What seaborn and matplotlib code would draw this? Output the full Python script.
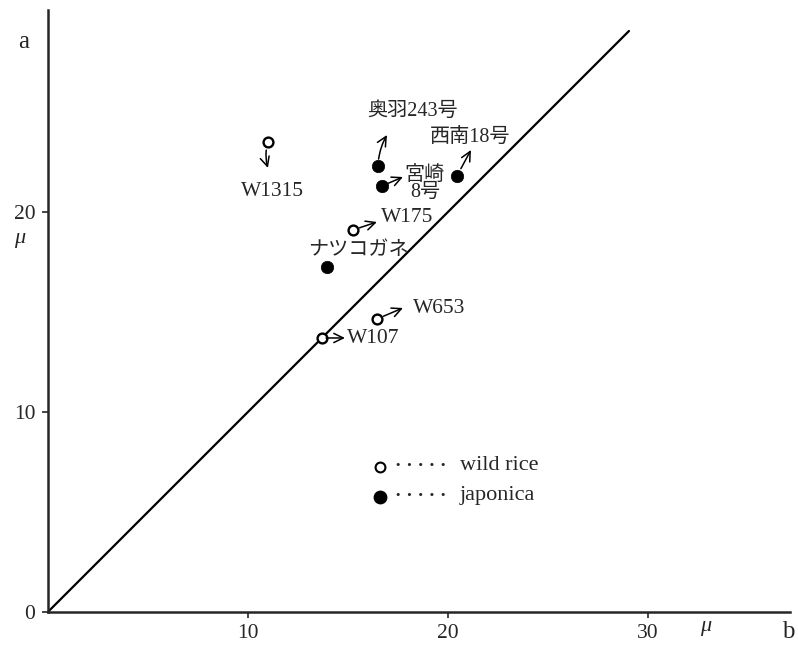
import numpy as np
import pandas as pd
import matplotlib
matplotlib.use('Agg')
import matplotlib.pyplot as plt
import seaborn as sns

# ── data (unit: μ) ───────────────────────────────────────────────
names   = ['W1315', '奥羽243号', '宮崎\n8号', '西南18号', 'W175', 'ナツコガネ', 'W653', 'W107']
groups  = ['wild rice', 'japonica', 'japonica', 'japonica', 'wild rice', 'japonica', 'wild rice', 'wild rice']
x_vals  = [11.0, 16.5, 16.7, 20.45, 15.25, 13.95, 16.45, 13.7]   # b
y_vals  = [23.5, 22.3, 21.3, 21.8, 19.1, 17.25, 14.65, 13.7]     # a
# arrow tips (shifted position); None = no arrow
x_to    = [11.0, 16.95, 17.75, 21.15, 16.45, None, 17.75, 14.85]
y_to    = [22.2, 23.85, 21.75, 23.1, 19.5, None, 15.2, 13.7]
diag_max = 29.05

df = pd.DataFrame({'name': names, 'group': groups, 'b': x_vals, 'a': y_vals})

# ── layout of labels (positions in data coords) ───────────────────
lab_xy = [(11.25, 21.0, 'center'), (18.25, 25.05, 'center'), (18.85, 21.4, 'center'),
          (21.1, 23.75, 'center'), (16.65, 19.7, 'left'), (15.5, 18.05, 'center'),
          (18.25, 15.15, 'left'), (14.95, 13.65, 'left')]
arc = [0.15, -0.12, 0, 0, 0, 0, 0, 0]
shrink = [6, 5, 5, 6, 5, 0, 5, 3]

sns.set_style('ticks')
plt.rcParams['font.family'] = ['Liberation Serif', 'Noto Sans CJK JP']
plt.rcParams['font.size'] = 15

fig = plt.figure(figsize=(7.98, 6.48), dpi=100)
ax = fig.add_axes([0.060, 0.0556, 0.93, 0.929])

ax.plot([0, diag_max], [0, diag_max], color='black', lw=1.6, zorder=1)

wild = df[df.group == 'wild rice']
jap = df[df.group == 'japonica']
sns.scatterplot(data=wild, x='b', y='a', ax=ax, s=50, color='white',
                edgecolor='black', linewidth=1.7, zorder=3, legend=False)
sns.scatterplot(data=jap, x='b', y='a', ax=ax, s=80, color='black',
                edgecolor='black', linewidth=0.5, zorder=3, legend=False)

for i in range(len(names)):
    if x_to[i] is not None:
        ax.annotate('', xy=(x_to[i], y_to[i]), xytext=(x_vals[i], y_vals[i]),
                    arrowprops=dict(arrowstyle='->,head_length=0.45,head_width=0.22',
                                    lw=1.1, color='black',
                                    shrinkA=shrink[i], shrinkB=0,
                                    connectionstyle=f'arc3,rad={arc[i]}'))
    lx, ly, ha = lab_xy[i]
    fs = 15.5 if names[i].startswith('W') else 14.5
    ax.text(lx, ly, names[i], ha=ha, va='center', fontsize=fs,
            linespacing=0.9)

# legend drawn by hand, like the original
ax.scatter([16.6], [7.25], s=50, facecolor='white', edgecolor='black', lw=1.5, zorder=3)
ax.scatter([16.6], [5.75], s=80, color='black', zorder=3)
for yy, lab in [(7.25, 'wild rice'), (5.75, 'japonica')]:
    ax.text(17.35, yy, '· · · · ·', va='center', ha='left', fontsize=14, fontweight='bold')
    ax.text(20.6, yy + 0.05, lab, va='center', ha='left', fontsize=16)

ax.set_xlim(0, 37.1)
ax.set_ylim(0, 30.1)
ax.set_xticks([10, 20, 30])
ax.set_yticks([0, 10, 20])
ax.tick_params(direction='out', length=4, width=1.2, labelsize=15.5, pad=5)
ax.set_xlabel('')
ax.set_ylabel('')
sns.despine(ax=ax)
for sp in ('left', 'bottom'):
    ax.spines[sp].set_linewidth(1.8)

fig.text(18 / 798, 1 - 42 / 648, 'a', fontsize=18, ha='left', va='center')
fig.text(14 / 798, 1 - 238 / 648, 'μ', fontsize=16, style='italic', ha='left', va='center')
fig.text(788 / 798, 1 - 632 / 648, 'b', fontsize=18, ha='center', va='center')
fig.text(706 / 798, 1 - 626 / 648, 'μ', fontsize=16, style='italic', ha='center', va='center')

fig.savefig('out.png', dpi=100)
